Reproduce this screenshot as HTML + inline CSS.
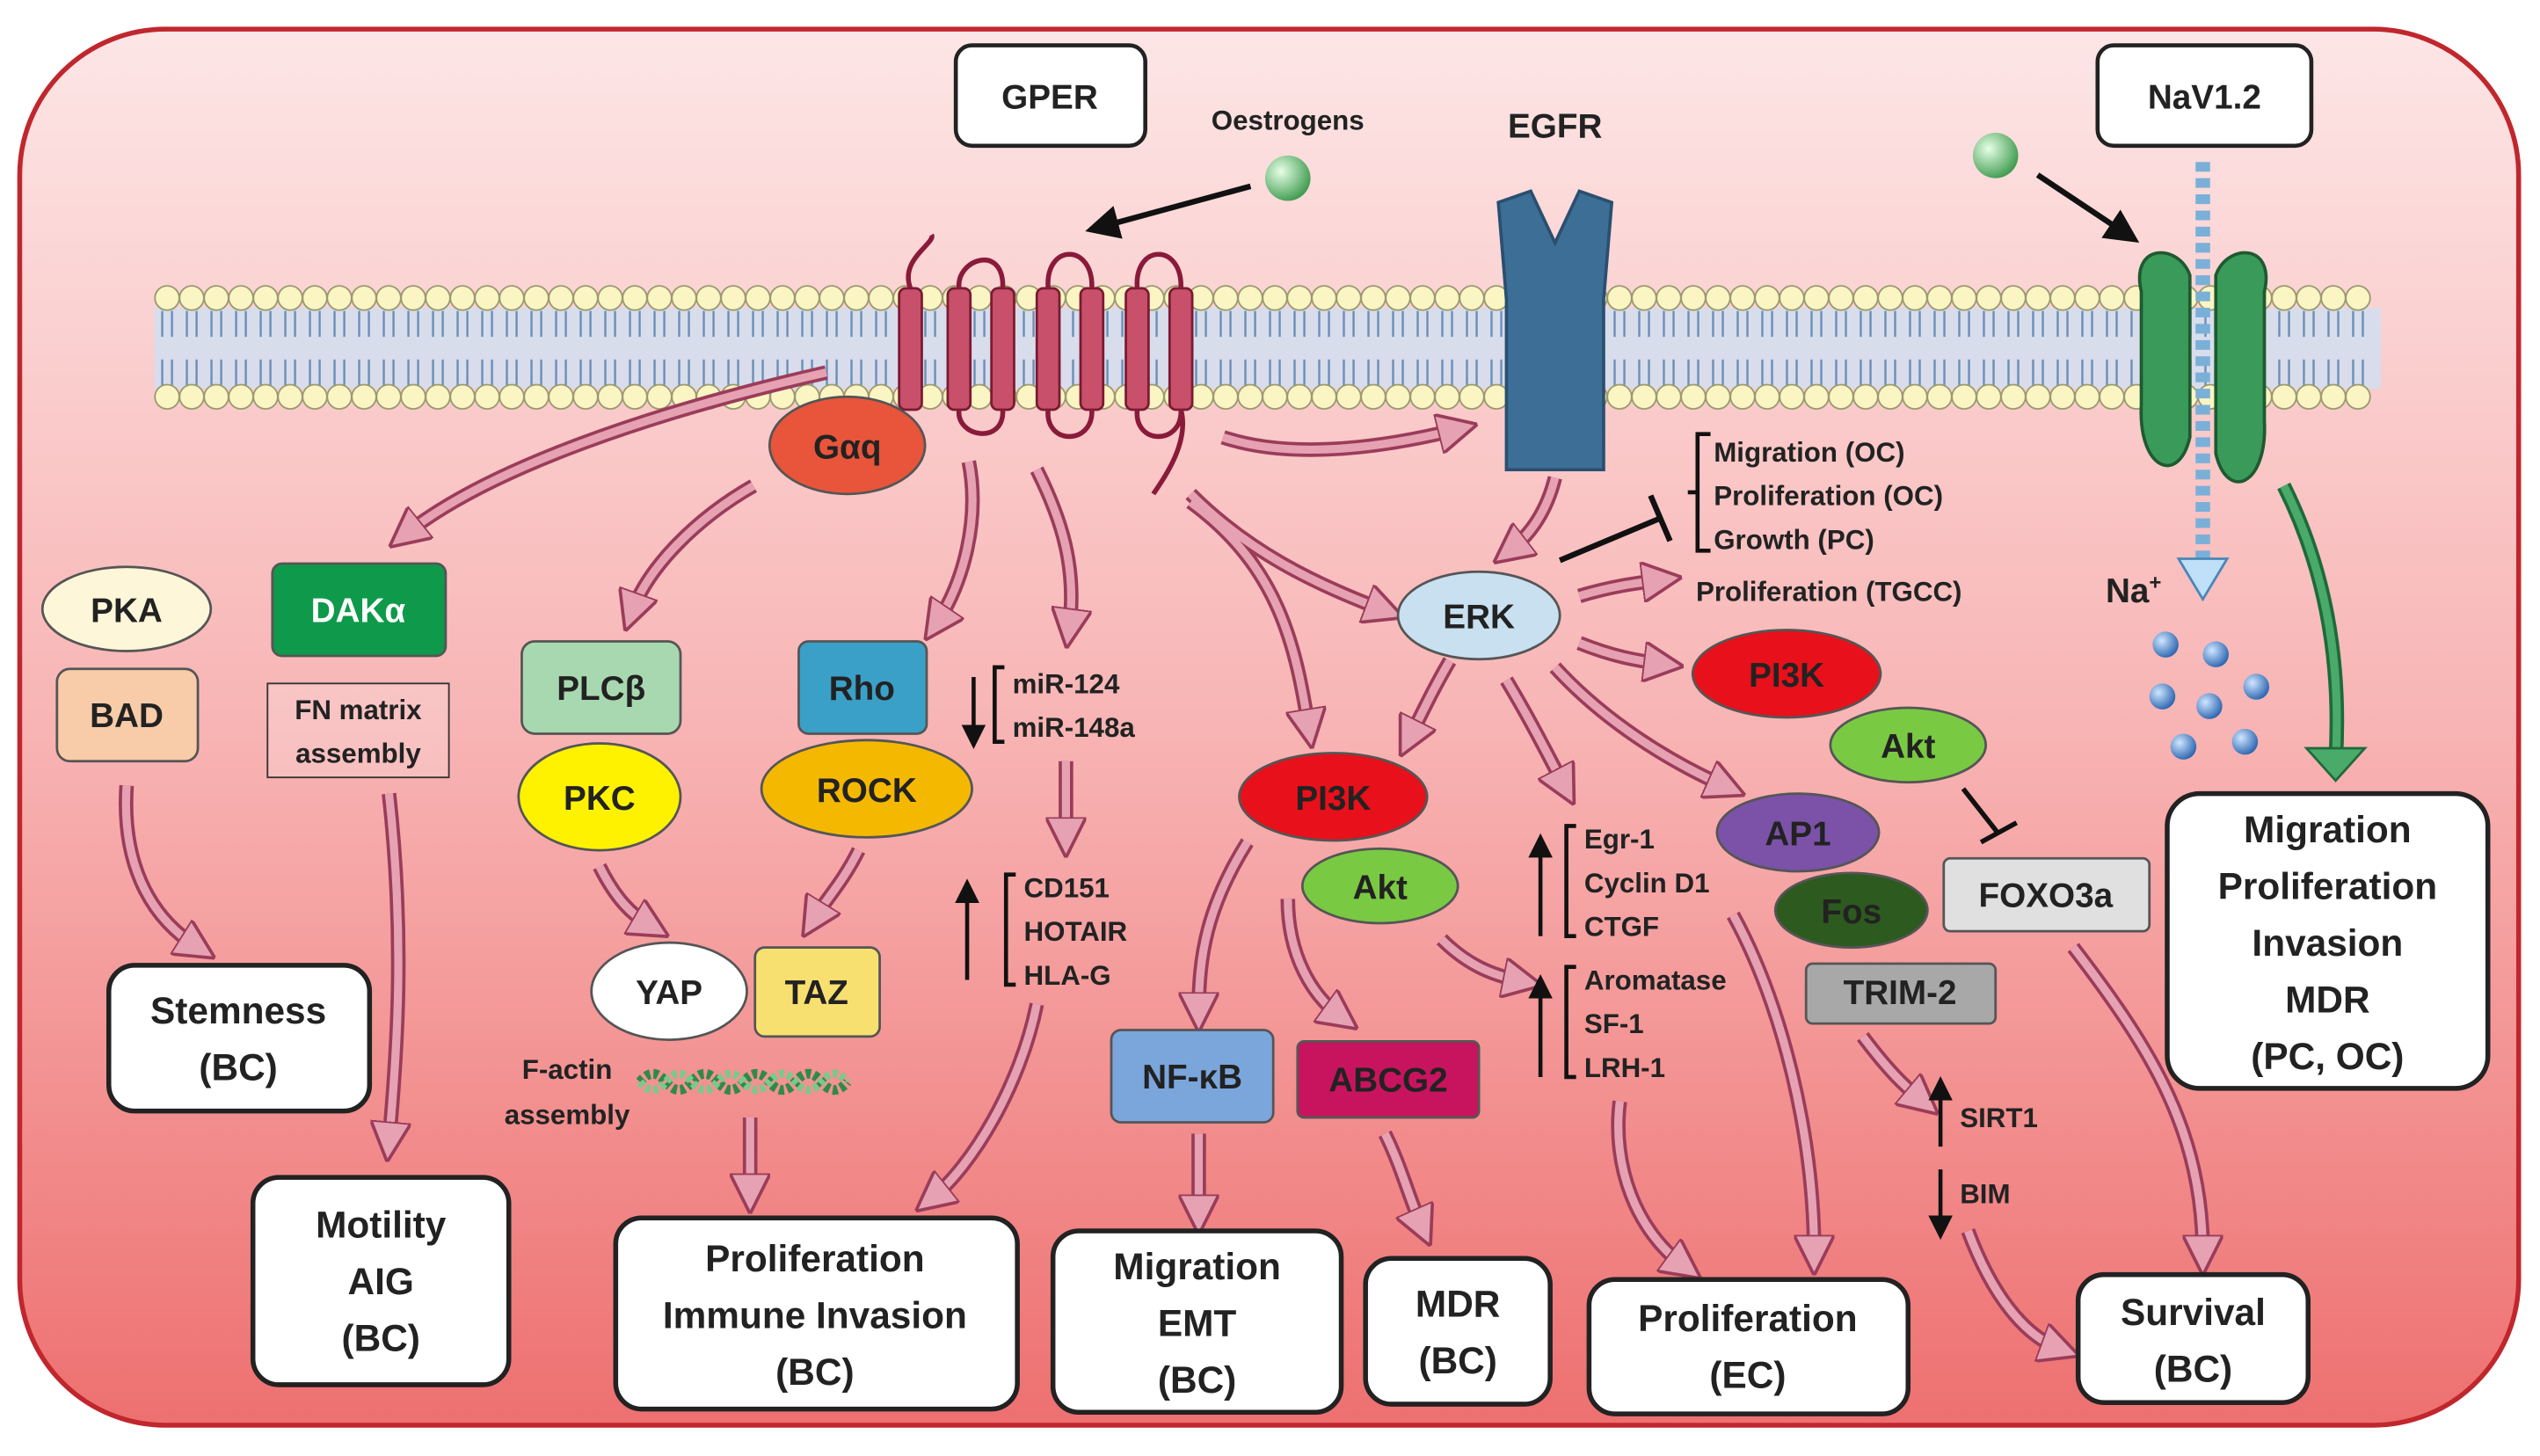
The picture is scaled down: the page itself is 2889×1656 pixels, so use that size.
<!DOCTYPE html>
<html><head><meta charset="utf-8"><style>
html,body{margin:0;padding:0;background:#fff}
svg{display:block}
text{font-family:"Liberation Sans",Arial,sans-serif;font-weight:bold;fill:#222}
</style></head><body>
<svg id="main" width="2889" height="1656" viewBox="0 0 1568 899" xmlns="http://www.w3.org/2000/svg">
<defs>
<linearGradient id="bg" x1="0" y1="0" x2="0" y2="1">
<stop offset="0" stop-color="#fde6e6"/><stop offset="0.5" stop-color="#f8b4b4"/><stop offset="1" stop-color="#ee7070"/></linearGradient>
<marker id="pa" markerWidth="5" markerHeight="5" refX="2.5" refY="2.5" orient="auto" markerUnits="strokeWidth">
<path d="M0,0 L5,2.5 L0,5 Z" fill="#e6a2b2" stroke="#9a3c5a" stroke-width="0.4"/></marker>
<marker id="ba" markerWidth="6" markerHeight="6" refX="3" refY="3" orient="auto" markerUnits="strokeWidth">
<path d="M0,0 L6,3 L0,6 Z" fill="#111"/></marker>
<radialGradient id="gs" cx="0.35" cy="0.35" r="0.7"><stop offset="0" stop-color="#e6ffe6"/><stop offset="1" stop-color="#3f9a4f"/></radialGradient>
<radialGradient id="bs" cx="0.35" cy="0.35" r="0.7"><stop offset="0" stop-color="#cfe6ff"/><stop offset="1" stop-color="#2a64b0"/></radialGradient>
<g id="arrows">
<path d="M510,230 C400,255 300,290 250,330"/><path d="M465,300 C430,320 400,350 390,378"/><path d="M598,285 C605,320 595,360 578,385"/><path d="M640,290 C655,320 665,350 660,388"/><path d="M735,310 C790,350 800,400 808,450"/><path d="M735,305 C770,340 810,360 855,377"/><path d="M755,270 C800,285 860,275 900,265"/><path d="M960,295 C955,315 945,330 932,340"/><path d="M895,408 C885,425 878,440 870,456"/><path d="M930,420 C945,445 955,465 966,486"/><path d="M960,412 C990,445 1030,470 1066,486"/><path d="M975,368 C995,362 1010,360 1026,358"/><path d="M975,397 C995,405 1010,408 1027,410"/><path d="M78,485 C75,530 90,565 122,585"/><path d="M240,490 C250,580 245,650 240,705"/><path d="M370,535 C380,555 390,565 402,572"/><path d="M530,525 C520,545 510,555 502,568"/><path d="M658,470 L658,517"/><path d="M640,620 C630,670 600,720 575,740"/><path d="M463,690 L463,737"/><path d="M770,520 C745,560 740,590 740,625"/><path d="M795,555 C795,590 810,615 828,628"/><path d="M890,580 C905,595 920,602 940,606"/><path d="M740,700 L740,750"/><path d="M855,700 C865,720 870,740 878,758"/><path d="M1000,680 C995,720 1010,760 1040,782"/><path d="M1070,565 C1100,620 1120,700 1120,775"/><path d="M1150,640 C1165,660 1175,670 1187,680"/><path d="M1215,760 C1230,800 1250,825 1272,833"/><path d="M1280,585 C1330,650 1360,700 1360,775"/>
</g>
</defs>
<rect x="12" y="18" width="1543" height="862" rx="90" fill="url(#bg)" stroke="#c0272d" stroke-width="3"/>
<rect x="95" y="190" width="1375" height="50" fill="#cfe0f2" opacity="0.8"/>
<g stroke="#6b8fb8" stroke-width="1.3" fill="none" id="tails"></g>
<g id="heads"></g>
<!-- GPER helices -->
<g fill="#c8506a" stroke="#7a1a32" stroke-width="1.5">
<rect x="555" y="178" width="14" height="75" rx="4"/><rect x="585" y="178" width="14" height="75" rx="4"/><rect x="612" y="178" width="14" height="75" rx="4"/><rect x="640" y="178" width="14" height="75" rx="4"/><rect x="667" y="178" width="14" height="75" rx="4"/><rect x="695" y="178" width="14" height="75" rx="4"/><rect x="722" y="178" width="14" height="75" rx="4"/>
</g>
<path d="M562,178 C555,160 578,150 575,145 M592,178 C590,160 620,150 619,178 M647,178 C645,150 675,150 674,178 M702,178 C700,150 730,150 729,178 M592,253 C590,270 620,275 619,253 M647,253 C645,275 675,275 674,253 M702,253 C700,275 730,275 729,253 M729,253 C735,275 715,300 712,305" stroke="#8a1a3a" stroke-width="3" fill="none"/>
<!-- EGFR -->
<path d="M925,125 L945,118 L960,150 L975,118 L995,125 L990,185 L990,290 L930,290 L930,185 Z" fill="#3d6f96" stroke="#2a4f70" stroke-width="2"/>
<!-- NaV channel -->
<path d="M1322,180 C1315,150 1345,150 1352,170 L1352,270 C1345,300 1320,290 1322,250 Z" fill="#3a9a5a" stroke="#1e5a30" stroke-width="2"/>
<path d="M1398,180 C1405,150 1375,150 1368,170 L1368,280 C1375,310 1400,300 1398,260 Z" fill="#3a9a5a" stroke="#1e5a30" stroke-width="2"/>
<line x1="1360" y1="100" x2="1360" y2="345" stroke="#7ab0d8" stroke-width="9" stroke-dasharray="6,4"/>
<path d="M1345,345 L1375,345 L1360,370 Z" fill="#bfe0f8" stroke="#4a86b8" stroke-width="1.5"/>
<text x="1300" y="372" font-size="21">Na<tspan font-size="13" dy="-8">+</tspan></text>
<g fill="url(#bs)"><circle cx="1337" cy="398" r="8"/><circle cx="1368" cy="404" r="8"/><circle cx="1335" cy="430" r="8"/><circle cx="1364" cy="436" r="8"/><circle cx="1393" cy="424" r="8"/><circle cx="1348" cy="461" r="8"/><circle cx="1386" cy="458" r="8"/></g>
<rect x="590" y="28" width="117" height="62" rx="10" fill="#fff" stroke="#222" stroke-width="2.5"/><text x="648" y="67" font-size="21" text-anchor="middle">GPER</text>
<rect x="1295" y="28" width="132" height="62" rx="10" fill="#fff" stroke="#222" stroke-width="2.5"/><text x="1361" y="67" font-size="21" text-anchor="middle">NaV1.2</text>
<text x="795" y="80" font-size="17" text-anchor="middle">Oestrogens</text>
<text x="960" y="85" font-size="21" text-anchor="middle">EGFR</text>
<circle cx="795" cy="110" r="14" fill="url(#gs)"/><circle cx="1232" cy="96" r="14" fill="url(#gs)"/>
<line x1="772" y1="115" x2="680" y2="140" stroke="#111" stroke-width="3.5" marker-end="url(#ba)"/>
<line x1="1258" y1="108" x2="1312" y2="144" stroke="#111" stroke-width="3.5" marker-end="url(#ba)"/>
<!-- pink arrows -->
<use href="#arrows" fill="none" stroke="#9a3c5a" stroke-width="9"/>
<use href="#arrows" fill="none" stroke="#e6a2b2" stroke-width="5" marker-end="url(#pa)"/>
<!-- green arrow -->
<path d="M1410,300 C1440,360 1445,420 1442,470" fill="none" stroke="#1e6a3a" stroke-width="9"/>
<path d="M1410,300 C1440,360 1445,420 1442,470" fill="none" stroke="#4aaa6a" stroke-width="5"/>
<path d="M1424,462 L1460,462 L1442,482 Z" fill="#4aaa6a" stroke="#1e6a3a" stroke-width="1.5"/>
<line x1="963" y1="346" x2="1025" y2="320" stroke="#111" stroke-width="3.5"/><line x1="1019" y1="306" x2="1031" y2="334" stroke="#111" stroke-width="3.5"/>
<line x1="1212" y1="487" x2="1234" y2="515" stroke="#111" stroke-width="3"/><line x1="1223" y1="520" x2="1245" y2="508" stroke="#111" stroke-width="3"/>
<g stroke="#555" stroke-width="1.5">
<ellipse cx="523" cy="275" rx="48" ry="30" fill="#e8553a"/>
<ellipse cx="78" cy="376" rx="52" ry="26" fill="#fef6d8"/>
<rect x="35" y="413" width="87" height="57" rx="8" fill="#f8cca8"/>
<rect x="168" y="348" width="107" height="57" rx="6" fill="#0e9a4a"/>
<rect x="322" y="396" width="98" height="57" rx="8" fill="#a8d8b0"/>
<ellipse cx="370" cy="492" rx="50" ry="33" fill="#fff200"/>
<rect x="493" y="396" width="79" height="57" rx="6" fill="#3aa0c8"/>
<ellipse cx="535" cy="487" rx="65" ry="30" fill="#f5b800"/>
<ellipse cx="413" cy="612" rx="48" ry="30" fill="#fff"/>
<rect x="466" y="585" width="77" height="55" rx="6" fill="#f8e070"/>
<ellipse cx="913" cy="380" rx="50" ry="27" fill="#c8e0f0"/>
<ellipse cx="1103" cy="416" rx="58" ry="27" fill="#e8101a"/>
<ellipse cx="1178" cy="460" rx="48" ry="23" fill="#7ac943"/>
<ellipse cx="823" cy="492" rx="58" ry="27" fill="#e8101a"/>
<ellipse cx="852" cy="547" rx="48" ry="23" fill="#7ac943"/>
<ellipse cx="1110" cy="514" rx="50" ry="24" fill="#7b52a8"/>
<ellipse cx="1143" cy="562" rx="47" ry="23" fill="#2d5a1e"/>
<rect x="1115" y="595" width="117" height="37" rx="4" fill="#a8a8a8"/>
<rect x="1200" y="530" width="127" height="45" rx="4" fill="#e0e0e0"/>
<rect x="686" y="636" width="100" height="57" rx="6" fill="#7ba6dc"/>
<rect x="801" y="643" width="112" height="47" rx="4" fill="#c8145e"/>
</g>
<rect x="165" y="422" width="112" height="58" fill="#fff" fill-opacity="0.2" stroke="#333" stroke-width="1"/>
<g font-size="21" text-anchor="middle">
<text x="523" y="283">Gαq</text>
<text x="78" y="384">PKA</text><text x="78" y="449">BAD</text>
<text x="221" y="384" style="fill:#fff">DAKα</text>
<text x="371" y="432">PLCβ</text><text x="370" y="500">PKC</text>
<text x="532" y="432">Rho</text><text x="535" y="495">ROCK</text>
<text x="413" y="620">YAP</text><text x="504" y="620">TAZ</text>
<text x="913" y="388">ERK</text>
<text x="1103" y="424">PI3K</text><text x="1178" y="468">Akt</text>
<text x="823" y="500">PI3K</text><text x="852" y="555">Akt</text>
<text x="1110" y="522">AP1</text><text x="1143" y="570">Fos</text>
<text x="1173" y="620">TRIM-2</text><text x="1263" y="560">FOXO3a</text>
<text x="736" y="672">NF-κB</text><text x="857" y="674">ABCG2</text>
</g>
<g font-size="17">
<text x="221" y="444" text-anchor="middle">FN matrix</text><text x="221" y="471" text-anchor="middle">assembly</text>
<text x="350" y="666" text-anchor="middle">F-actin</text><text x="350" y="694" text-anchor="middle">assembly</text>
<text x="625" y="428">miR-124</text><text x="625" y="455">miR-148a</text>
<text x="632" y="554">CD151</text><text x="632" y="581">HOTAIR</text><text x="632" y="608">HLA-G</text>
<text x="1058" y="285">Migration (OC)</text><text x="1058" y="312">Proliferation (OC)</text><text x="1058" y="339">Growth (PC)</text>
<text x="1047" y="371">Proliferation (TGCC)</text>
<text x="978" y="524">Egr-1</text><text x="978" y="551">Cyclin D1</text><text x="978" y="578">CTGF</text>
<text x="978" y="611">Aromatase</text><text x="978" y="638">SF-1</text><text x="978" y="665">LRH-1</text>
<text x="1210" y="696">SIRT1</text><text x="1210" y="743">BIM</text>
</g>
<g stroke="#111" stroke-width="2.5" fill="none">
<path d="M1056,268 h-8 v72 h8 M1048,304 h-6"/>
<path d="M620,412 h-6 v46 h6"/><path d="M627,540 h-6 v68 h6"/>
<path d="M973,510 h-6 v68 h6"/><path d="M973,597 h-6 v68 h6"/>
<line x1="601" y1="418" x2="601" y2="455" marker-end="url(#ba)"/>
<line x1="597" y1="605" x2="597" y2="550" marker-end="url(#ba)"/>
<line x1="951" y1="578" x2="951" y2="522" marker-end="url(#ba)"/>
<line x1="951" y1="665" x2="951" y2="609" marker-end="url(#ba)"/>
<line x1="1198" y1="708" x2="1198" y2="672" marker-end="url(#ba)"/>
<line x1="1198" y1="722" x2="1198" y2="758" marker-end="url(#ba)"/>
</g>
<path d="M395,668 q8,-10 16,0 t16,0 t16,0 t16,0 t16,0 t16,0 t16,0 t16,0" fill="none" stroke="#2f8a4a" stroke-width="6" stroke-dasharray="3,2"/>
<path d="M395,668 q8,10 16,0 t16,0 t16,0 t16,0 t16,0 t16,0 t16,0 t16,0" fill="none" stroke="#7ac98a" stroke-width="5" stroke-dasharray="3,2"/>
<g fill="#fff" stroke="#222" stroke-width="3">
<rect x="67" y="596" width="161" height="90" rx="16"/>
<rect x="156" y="727" width="158" height="128" rx="16"/>
<rect x="380" y="752" width="248" height="118" rx="16"/>
<rect x="650" y="760" width="178" height="112" rx="16"/>
<rect x="843" y="777" width="114" height="90" rx="16"/>
<rect x="981" y="790" width="197" height="83" rx="16"/>
<rect x="1283" y="787" width="142" height="79" rx="16"/>
<rect x="1338" y="490" width="198" height="182" rx="20"/>
</g>
<g font-size="23" text-anchor="middle">
<text x="147" y="632">Stemness</text><text x="147" y="667">(BC)</text>
<text x="235" y="764">Motility</text><text x="235" y="799">AIG</text><text x="235" y="834">(BC)</text>
<text x="503" y="785">Proliferation</text><text x="503" y="820">Immune Invasion</text><text x="503" y="855">(BC)</text>
<text x="739" y="790">Migration</text><text x="739" y="825">EMT</text><text x="739" y="860">(BC)</text>
<text x="900" y="813">MDR</text><text x="900" y="848">(BC)</text>
<text x="1079" y="822">Proliferation</text><text x="1079" y="857">(EC)</text>
<text x="1354" y="818">Survival</text><text x="1354" y="853">(BC)</text>
<text x="1437" y="520">Migration</text><text x="1437" y="555">Proliferation</text><text x="1437" y="590">Invasion</text><text x="1437" y="625">MDR</text><text x="1437" y="660">(PC, OC)</text>
</g>
</svg>
<script>
(function(){var s="http://www.w3.org/2000/svg",h=document.getElementById('heads'),t=document.getElementById('tails');
for(var x=103;x<=1465;x+=15.2){
for(var k=0;k<2;k++){var y=k?245:184;var c=document.createElementNS(s,'circle');c.setAttribute('cx',x);c.setAttribute('cy',y);c.setAttribute('r',7.5);c.setAttribute('fill','#fbf5c4');c.setAttribute('stroke','#9a9a70');c.setAttribute('stroke-width','1');h.appendChild(c);}
var p=document.createElementNS(s,'path');p.setAttribute('d','M'+(x-3)+',192 v16 m0,14 v16 M'+(x+3)+',192 v16 m0,14 v16');t.appendChild(p);}})();
</script>
</body></html>
